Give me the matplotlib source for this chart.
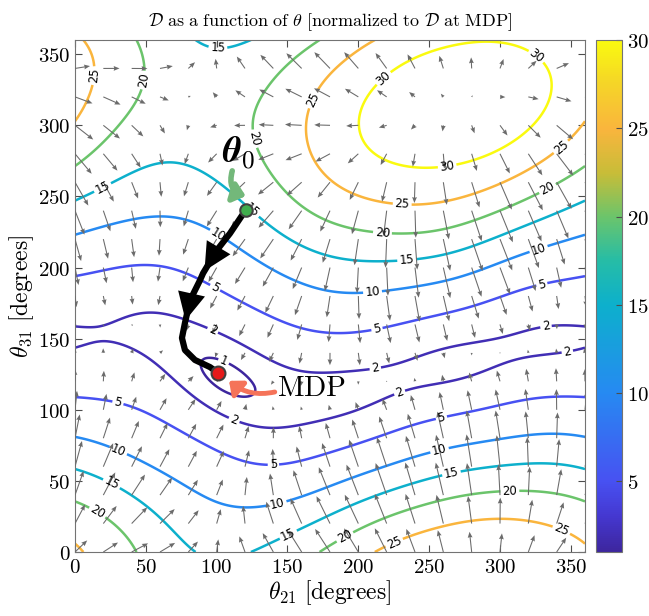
import numpy as np
import matplotlib
matplotlib.use("Agg")
import matplotlib.pyplot as plt
from matplotlib.colors import LinearSegmentedColormap, Normalize
from matplotlib.cm import ScalarMappable

plt.rcParams['mathtext.fontset'] = 'cm'
plt.rcParams['font.family'] = 'DejaVu Sans'

# contour crossings, (theta21, theta31) in degrees, per level
pts_1 = [(84.7, 133.6), (86, 125.9), (93.2, 116), (107.3, 110.4), (125.6, 109), (129.2, 112.5),
         (116.5, 123), (104.5, 132.9), (97.5, 135.7)]
pts_2 = [(0, 161), (43.5, 166.6), (79, 163), (109, 149), (137.6, 135), (180, 126), (196, 126),
         (243.5, 138.5), (291, 149), (358.6, 158),
         (0, 145), (32, 143.4), (67, 128), (95, 104.8), (118.6, 90.7), (149.6, 88), (180, 93),
         (220, 108), (267, 121), (314, 135), (358.6, 145)]
pts_5 = [(0, 194.8), (43.5, 202), (83, 196), (93, 191), (102, 186), (118.6, 177), (149.6, 165),
         (180, 156), (208, 157.5), (267, 170), (326, 186), (358.6, 191),
         (0, 109), (32, 102), (67, 88), (97.5, 71.7), (125.6, 62.6), (149.6, 63.3), (180, 71.7),
         (220, 83.7), (267, 96), (314, 107), (358.6, 109)]
pts_10 = [(0, 223.6), (60, 235.5), (90, 228.5), (118.6, 212), (147, 196), (180, 184), (201, 182),
          (267, 189), (319, 212), (358.6, 221.5),
          (0, 81), (32, 70), (67, 52.7), (95, 36.6), (121, 29.5), (149.6, 35), (180, 45),
          (220, 59.8), (267, 73), (314, 81), (358.6, 81.6)]
pts_15 = [(0, 247.5), (24.7, 259.5), (72, 273), (95, 266.5), (114, 247.5), (137.6, 228.5),
          (161, 212), (180, 205), (222, 205), (267, 214.5), (314, 231), (358.6, 247.5),
          (0, 57.7), (32, 43.6), (55, 29.5), (85, 0), (123.5, 0), (161, 17.6), (173, 24.6),
          (220, 43.6), (267, 56), (314, 62.6), (358.6, 60), (88, 357), (116, 357)]
pts_20 = [(47, 358.6), (47, 327), (32, 304), (0, 272),
          (171, 358.6), (137.6, 332), (127, 301.6), (137.6, 266.5), (161, 245.4), (180, 235.5),
          (215, 224), (267, 226), (314, 242.6), (358.6, 268.6),
          (0, 35), (20, 27.4), (41, 0), (179, 0), (196, 15.5), (243.5, 31.6), (291, 41.5),
          (326, 41.5), (358.6, 36.6)]
pts_25 = [(8.5, 358.6), (14, 337), (10.6, 320), (0, 305),
          (210, 358.6), (180, 339), (173, 327), (164, 296.7), (175, 261.6), (220, 245.4),
          (267, 247.5), (314, 266.5), (358.6, 299),
          (5, 0), (0, 5), (215, 1.4), (255.5, 17.6), (300, 24), (337, 17.6), (358.6, 8.4)]
pts_30 = [(199, 301.6), (220, 275.6), (250.6, 270), (291, 277.7), (326, 301.6), (335, 332),
          (323, 353), (276.7, 358.6), (243.5, 349.5), (210, 327)]
# a few spot values: peak, bottom of the valley, bottom pocket
spot_xy = [(268, 315), (104, 123), (104, 0)]
spot_val = [33.5, 0.75, 14.3]

levels = [1, 2, 5, 10, 15, 20, 25, 30]

# descent path from theta_0 to the MDP
path_t21 = [120.5, 109.4, 100, 90.4, 88.2, 81.2, 77.6, 75.5, 77.6, 84.7, 95.3, 101]
path_t31 = [240.5, 224, 212, 196, 191, 177, 161, 150.5, 142, 135, 130, 126]

label_pos = [(101, 357), (12.7, 335), (47, 332), (128.5, 291), (168, 318), (217, 334),
             (326, 349), (262.6, 272), (231, 245), (342, 286), (217, 224), (333, 256.6),
             (234, 206.7), (210, 183), (327, 213.7), (329.6, 187.7), (17.6, 260), (122, 237),
             (100, 221.5), (99, 186), (96.7, 154.7), (104.5, 133), (29.6, 102), (30, 70),
             (26, 48.5), (15.5, 27.4), (111.5, 90.7), (140, 62.6), (142.6, 35), (150, 13.4),
             (212, 129), (229, 112.5), (213, 157.5), (259, 92.8), (257.6, 70.3), (266, 54),
             (307, 42), (226, 5), (344, 17), (190.6, 10.5), (333, 154.7), (347, 144)]

# ---- smooth periodic surface through the read values ----
MX, NY = 4, 3
modes = [(0, 0)] + [(m, 0) for m in range(1, MX + 1)] + \
        [(m, n) for n in range(1, NY + 1) for m in range(-MX, MX + 1)]


def design(x, y):
    xr, yr = np.radians(x), np.radians(y)
    cols, pen = [], []
    for m, n in modes:
        ph = m * xr + n * yr
        cols.append(np.cos(ph)); pen.append(m * m + n * n)
        if (m, n) != (0, 0):
            cols.append(np.sin(ph)); pen.append(m * m + n * n)
    return np.stack(cols, axis=-1), np.array(pen, float)


px, py, pv, pw = [], [], [], []
for lev, pts in zip(levels, [pts_1, pts_2, pts_5, pts_10, pts_15, pts_20, pts_25, pts_30]):
    for a, b in pts:
        px.append(a); py.append(b); pv.append(lev)
        pw.append(4.0 if lev <= 2 else 1.0)
for (a, b), v in zip(spot_xy, spot_val):
    px.append(a); py.append(b); pv.append(v); pw.append(4.0 if v < 1 else 1.0)
pw = np.array(pw)
A, pen = design(np.array(px), np.array(py))
lam = 0.15
Afull = np.vstack([A * pw[:, None], np.diag(np.sqrt(lam) * pen)])
bfull = np.concatenate([np.array(pv) * pw, np.zeros(len(pen))])
coef = np.linalg.lstsq(Afull, bfull, rcond=None)[0]

t = np.arange(0, 361, 1.0)
XX, YY = np.meshgrid(t, t)
D = design(XX, YY)[0] @ coef
gy, gx = np.gradient(D, t, t)

# parula-like colour map
cmap = LinearSegmentedColormap.from_list('parula', [
    (0.0, (0.24, 0.15, 0.62)), (0.07, (0.27, 0.22, 0.82)), (0.138, (0.28, 0.32, 0.95)),
    (0.31, (0.15, 0.54, 0.95)), (0.483, (0.05, 0.69, 0.80)), (0.57, (0.15, 0.74, 0.65)),
    (0.655, (0.42, 0.77, 0.42)), (0.74, (0.78, 0.74, 0.22)), (0.828, (0.98, 0.71, 0.24)),
    (0.92, (0.96, 0.84, 0.15)), (1.0, (0.98, 0.98, 0.06))])
norm = Normalize(vmin=1, vmax=30)

fig = plt.figure(figsize=(6.49, 6.16), dpi=100)
ax = fig.add_axes([75 / 649, 64 / 616, 510 / 649, 512 / 616])

cs = ax.contour(XX, YY, D, levels=levels, colors=[cmap(norm(l)) for l in levels],
                linewidths=1.8)
ax.clabel(cs, fmt='%g', fontsize=8.5, colors='k', inline=True, inline_spacing=2,
          manual=label_pos)

step = 20
sl = slice(0, None, step)
U, V = -gx[sl, sl], -gy[sl, sl]
mag = np.hypot(U, V).max()
ax.quiver(XX[sl, sl], YY[sl, sl], U, V, angles='xy', scale_units='xy', scale=mag / 24,
          color='0.42', width=0.0021, headwidth=4.5, headlength=5.5, headaxislength=5, zorder=3)

ax.plot(path_t21, path_t31, color='k', lw=4.5, solid_capstyle='round', zorder=5)
for i in (2, 5):
    ax.annotate('', xy=(path_t21[i + 1], path_t31[i + 1]), xytext=(path_t21[i], path_t31[i]),
                arrowprops=dict(arrowstyle='-|>,head_length=0.9,head_width=0.45',
                                color='k', lw=0, mutation_scale=22), zorder=6)
ax.plot(path_t21[0], path_t31[0], 'o', ms=9, mfc=(0.25, 0.68, 0.3), mec='0.25', mew=1.5, zorder=7)
ax.plot(path_t21[-1], path_t31[-1], 'o', ms=10, mfc=(0.9, 0.1, 0.1), mec='0.25', mew=1.5, zorder=7)

ax.text(115.5, 280, r'$\boldsymbol{\theta}_0$', fontsize=26, ha='center', va='center', zorder=8)
ax.annotate('', xy=(121.5, 250), xytext=(111, 268),
            arrowprops=dict(arrowstyle='-|>,head_length=0.7,head_width=0.6', lw=4,
                            color=(0.45, 0.72, 0.48), shrinkA=0, shrinkB=1,
                            connectionstyle='arc3,rad=0.5'), zorder=8)
ax.text(167, 115, r'$\mathrm{MDP}$', fontsize=21, ha='center', va='center', zorder=8)
ax.annotate('', xy=(108, 121), xytext=(141, 112.5),
            arrowprops=dict(arrowstyle='-|>,head_length=0.7,head_width=0.6', lw=3.5,
                            color=(0.96, 0.45, 0.35), shrinkA=0, shrinkB=1,
                            connectionstyle='arc3,rad=-0.25'), zorder=8)

ax.set_xlim(0, 360)
ax.set_ylim(0, 360)
ticks = np.arange(0, 351, 50)
ax.set_xticks(ticks)
ax.set_yticks(ticks)
ax.set_xticklabels([f'${v}$' for v in ticks], fontsize=15)
ax.set_yticklabels([f'${v}$' for v in ticks], fontsize=15)
ax.tick_params(direction='in', top=True, right=True, length=5, color='0.3')
for s in ax.spines.values():
    s.set_color('0.45')
ax.set_xlabel(r'$\theta_{21}\ [\mathrm{degrees}]$', fontsize=17, labelpad=1)
ax.set_ylabel(r'$\theta_{31}\ [\mathrm{degrees}]$', fontsize=17, labelpad=1)
ax.set_title(r'$\mathcal{D}\ \mathrm{as\ a\ function\ of}\ \theta\ [\mathrm{normalized\ to}\ '
             r'\mathcal{D}\ \mathrm{at\ MDP}]$', fontsize=13, pad=10)

cax = fig.add_axes([596 / 649, 64 / 616, 26 / 649, 512 / 616])
cb = fig.colorbar(ScalarMappable(norm=norm, cmap=cmap), cax=cax)
cb.set_ticks([5, 10, 15, 20, 25, 30])
cb.set_ticklabels([f'${v}$' for v in [5, 10, 15, 20, 25, 30]], fontsize=15)
cb.ax.tick_params(direction='in', length=4, color='0.3')
cb.outline.set_edgecolor('0.45')

fig.savefig('out.png', dpi=100)
